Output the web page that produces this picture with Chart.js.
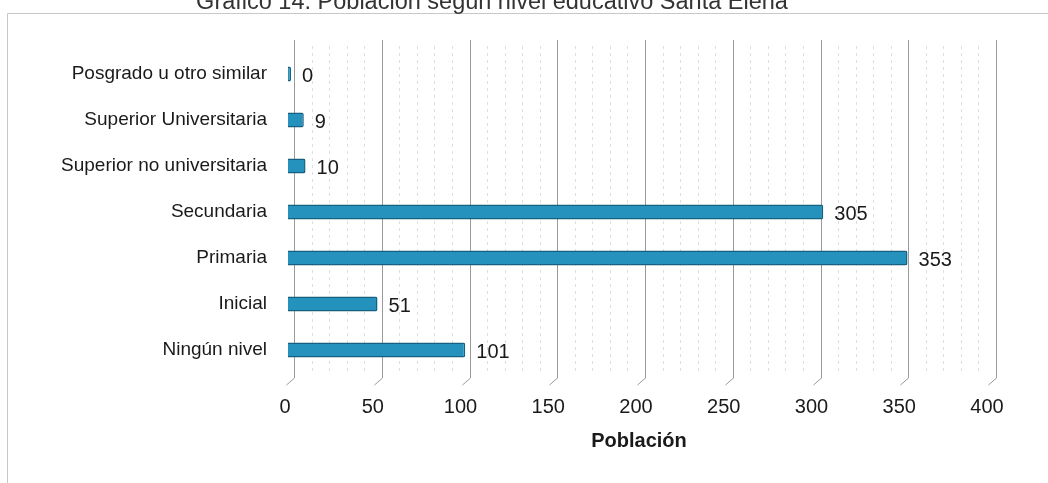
<!DOCTYPE html>
<html><head><meta charset="utf-8">
<script src="https://cdn.jsdelivr.net/npm/chart.js@4"></script>
<style>html,body{margin:0;padding:0;background:#fff}#wrap{width:1048px;height:483px;position:relative}</style>
</head><body><div id="wrap"><canvas id="c" width="1048" height="483"></canvas></div>
<script>
const categories = ["Posgrado u otro similar","Superior Universitaria","Superior no universitaria","Secundaria","Primaria","Inicial","Ningún nivel"];
const values = [0, 9, 10, 305, 353, 51, 101];
const xTicks = [0, 50, 100, 150, 200, 250, 300, 350, 400];
const chartTitle = "Gráfico 14. Población según nivel educativo Santa Elena";
const axisTitle = "Población";

const FONT = "'Liberation Sans Narrow','Arial Narrow','Liberation Sans',Arial,sans-serif";

const decor = {
  id: 'decor',
  beforeDraw(chart) {
    const ctx = chart.ctx;
    ctx.save();
    ctx.fillStyle = '#fff';
    ctx.fillRect(0, 0, chart.width, chart.height);
    // frame
    ctx.strokeStyle = '#c8c8c8';
    ctx.lineWidth = 1;
    ctx.beginPath();
    ctx.moveTo(7.5, 483); ctx.lineTo(7.5, 13.5); ctx.lineTo(1048, 13.5);
    ctx.stroke();
    // title (cut off at top)
    ctx.fillStyle = '#333';
    ctx.font = "23.5px 'Liberation Sans',Arial,sans-serif";
    ctx.textAlign = 'center';
    ctx.textBaseline = 'alphabetic';
    ctx.fillText(chartTitle, 492, 9);
    ctx.restore();
  },
  beforeDatasetsDraw(chart) {
    const ctx = chart.ctx, xs = chart.scales.x;
    const top = 40, bottom = 378;
    ctx.save();
    for (let v = 0; v <= 400; v += 10) {
      const px = xs.getPixelForValue(v);
      const major = v % 50 === 0;
      ctx.beginPath();
      if (major) {
        const x = Math.round(px + 6) + 0.5;
        ctx.strokeStyle = '#9a9a9a';
        ctx.setLineDash([]);
        ctx.lineWidth = 1;
        ctx.moveTo(x, top); ctx.lineTo(x, bottom); ctx.lineTo(x - 8, bottom + 7);
      } else {
        const x = Math.round(px + 6) + 0.5;
        ctx.strokeStyle = '#dedede';
        ctx.setLineDash([3, 4]);
        ctx.lineWidth = 1;
        ctx.moveTo(x, top + 6); ctx.lineTo(x, bottom - 4);
      }
      ctx.stroke();
    }
    ctx.restore();
  },
  afterDatasetsDraw(chart) {
    const ctx = chart.ctx;
    const meta = chart.getDatasetMeta(0);
    ctx.save();
    ctx.fillStyle = '#1a1a1a';
    ctx.font = "20px " + FONT;
    ctx.textAlign = 'left';
    ctx.textBaseline = 'middle';
    meta.data.forEach((bar, i) => {
      ctx.fillText(String(values[i]), bar.x + 11, bar.y + 2);
    });
    ctx.restore();
  }
};

new Chart(document.getElementById('c'), {
  type: 'bar',
  data: {
    labels: categories,
    datasets: [{
      data: values,
      backgroundColor: '#2591bd',
      borderColor: '#17607f',
      borderWidth: 1.5,
      borderSkipped: 'left',
      borderRadius: 2,
      minBarLength: 3,
      barPercentage: 0.66,
      categoryPercentage: 0.5
    }]
  },
  options: {
    indexAxis: 'y',
    responsive: false,
    animation: false,
    devicePixelRatio: 1,
    layout: { padding: { top: 51, right: 58, left: 0, bottom: 0 } },
    plugins: { legend: { display: false }, tooltip: { enabled: false }, title: { display: false } },
    scales: {
      x: {
        type: 'linear',
        min: 0, max: 400,
        afterBuildTicks(scale) { scale.ticks = xTicks.map(v => ({ value: v })); },
        grid: { display: false, drawTicks: false },
        border: { display: false },
        ticks: { color: '#1a1a1a', font: { family: FONT, size: 20 }, padding: 22, autoSkip: false, maxRotation: 0, labelOffset: -3 },
        title: { display: true, text: axisTitle, color: '#1a1a1a', font: { family: FONT, size: 20, weight: 'bold' }, padding: { top: 0, bottom: 30 } },
        afterFit(scale) { scale.height = 110; }
      },
      y: {
        grid: { display: false, drawTicks: false },
        border: { display: false },
        ticks: { color: '#1a1a1a', font: { family: FONT, size: 19 }, padding: 21, autoSkip: false },
        afterFit(scale) { scale.width = 288; }
      }
    }
  },
  plugins: [decor]
});
</script>
</body></html>
